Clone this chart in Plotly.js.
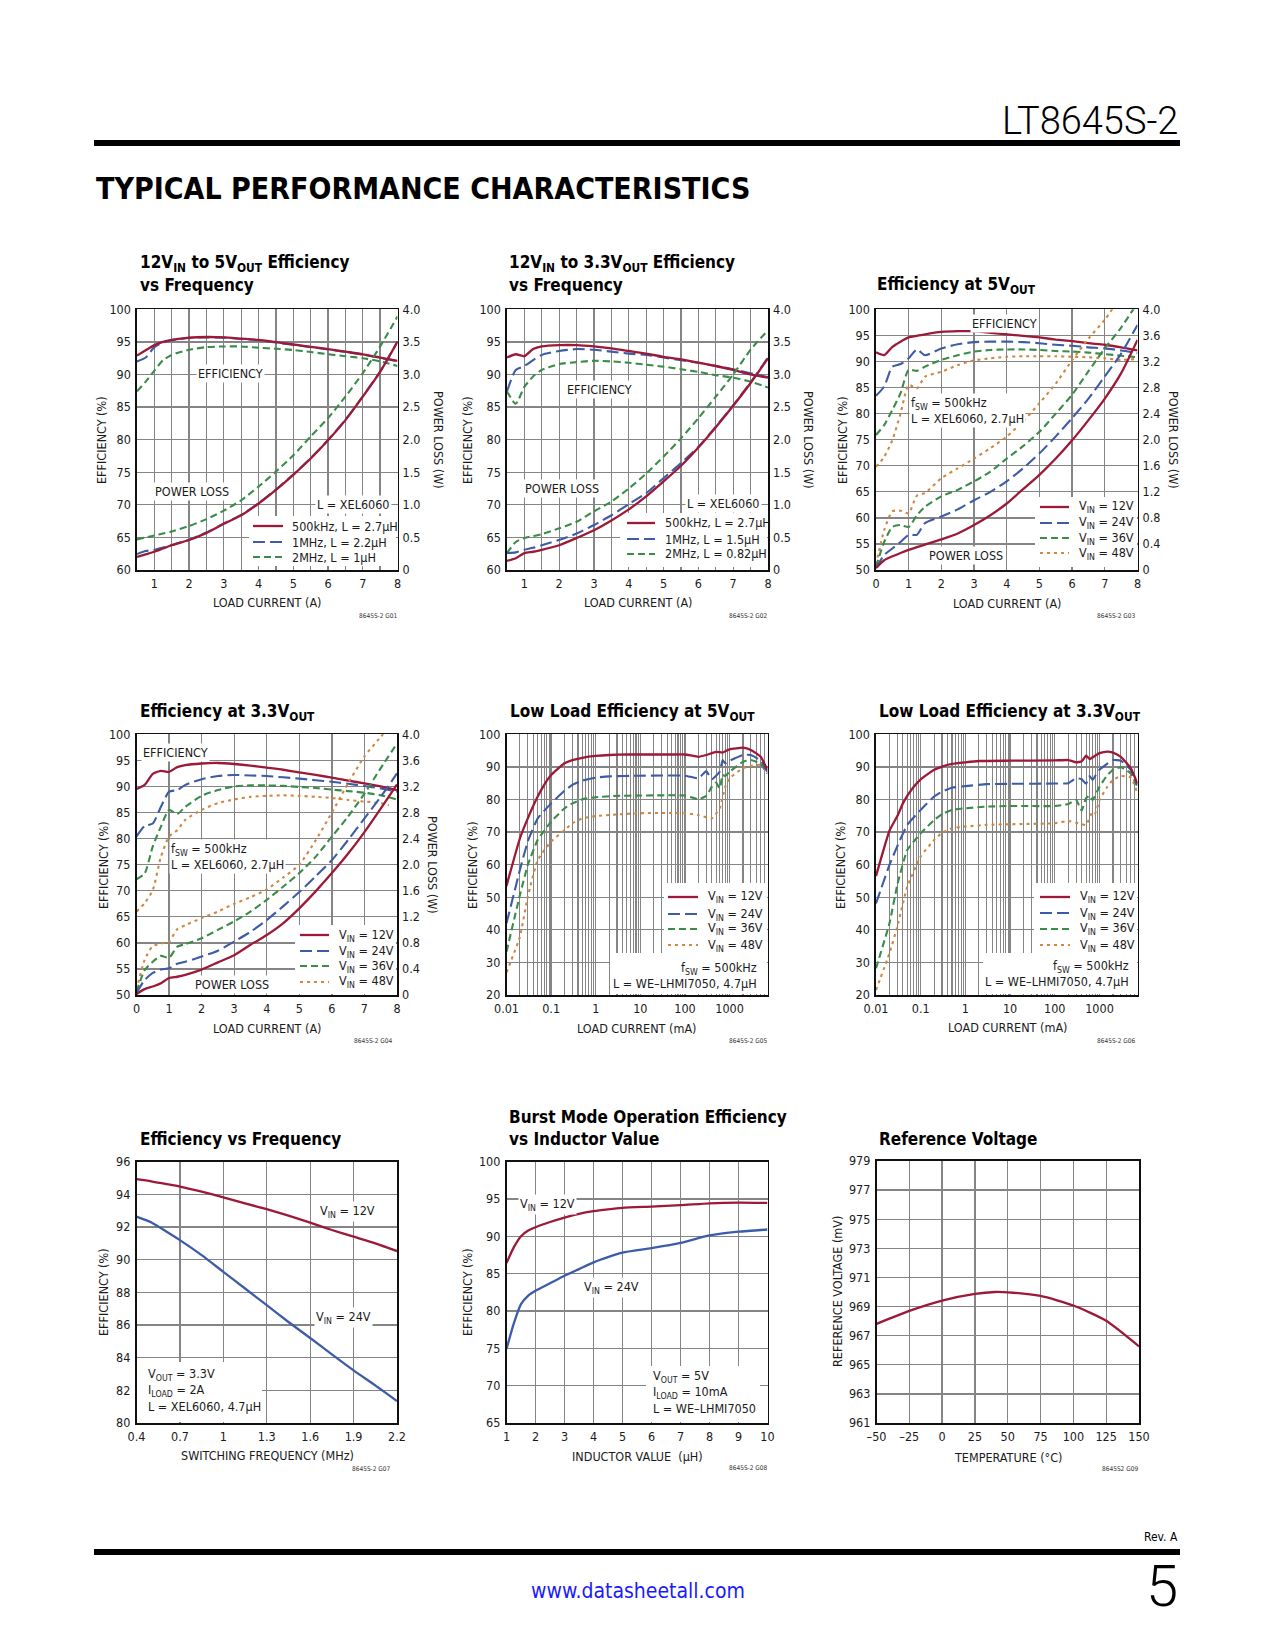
<!DOCTYPE html>
<html><head><meta charset="utf-8">
<script src="https://cdn.plot.ly/plotly-3.0.1.min.js"></script>
<style>html,body{margin:0;padding:0;background:#fff}</style>
</head><body><div id="page" style="width:1275px;height:1650px"></div>
<script>
// ---------------- DATA ----------------
// Chart 1: 12VIN to 5VOUT efficiency vs frequency
const c1_load = [0.5,0.75,1,1.25,1.5,2,2.5,3,3.5,4,4.5,5,5.5,6,6.5,7,7.5,8];
const c1_eff_500k = [92.9,93.7,94.5,95.0,95.3,95.65,95.75,95.7,95.5,95.3,94.95,94.6,94.25,93.9,93.5,93.1,92.6,92.1];
const c1_eff_1M   = [92.0,92.6,94.2,94.9,95.25,95.6,95.7,95.65,95.45,95.25,94.9,94.55,94.2,93.85,93.45,93.05,92.55,92.05];
const c1_eff_2M   = [87.4,88.9,90.6,92.2,93.0,93.8,94.2,94.3,94.3,94.1,93.95,93.75,93.45,93.1,92.8,92.5,92.0,91.3];
const c1_loss_500k = [0.20,0.24,0.28,0.33,0.38,0.46,0.57,0.71,0.84,1.02,1.23,1.46,1.71,1.99,2.30,2.66,3.04,3.50];
const c1_loss_1M   = [0.245,0.29,0.31,0.345,0.385,0.465,0.575,0.715,0.845,1.025,1.235,1.465,1.715,1.995,2.305,2.665,3.045,3.505];
const c1_loss_2M   = [0.47,0.50,0.53,0.56,0.59,0.675,0.78,0.91,1.07,1.28,1.51,1.76,2.05,2.33,2.66,3.02,3.43,3.89];
const c1_labels = ['500kHz, L = 2.7µH','1MHz, L = 2.2µH','2MHz, L = 1µH'];

// Chart 2: 12VIN to 3.3VOUT efficiency vs frequency
const c2_load = [0.5,0.75,1,1.25,1.5,2,2.5,3,3.5,4,4.5,5,5.5,6,6.5,7,7.5,8];
const c2_eff_500k = [92.6,93.1,92.8,93.9,94.3,94.5,94.5,94.3,94.0,93.6,93.2,92.7,92.3,91.8,91.3,90.7,90.0,89.5];
const c2_eff_1M   = [87.4,90.7,91.3,92.2,93.0,93.6,93.9,93.8,93.5,93.2,93.0,92.6,92.2,91.8,91.3,90.8,90.2,89.6];
const c2_eff_2M   = [87.4,85.5,88.1,89.7,90.7,91.6,91.9,92.1,92.0,91.8,91.5,91.2,90.8,90.4,89.9,89.5,88.9,88.0];
const c2_loss_500k = [0.14,0.18,0.26,0.28,0.31,0.38,0.49,0.61,0.76,0.93,1.13,1.36,1.60,1.88,2.19,2.52,2.87,3.25];
const c2_loss_1M   = [0.26,0.27,0.31,0.34,0.38,0.46,0.56,0.69,0.84,1.01,1.18,1.41,1.64,1.89,2.20,2.53,2.88,3.26];
const c2_loss_2M   = [0.26,0.43,0.49,0.52,0.55,0.64,0.74,0.90,1.05,1.25,1.48,1.74,2.02,2.33,2.66,3.00,3.38,3.68];
const c2_labels = ['500kHz, L = 2.7µH','1MHz, L = 1.5µH','2MHz, L = 0.82µH'];

// Chart 3: efficiency at 5VOUT
const c3_load = [0,0.25,0.5,0.75,1,1.25,1.5,2,2.5,3,3.5,4,4.5,5,5.5,6,6.5,7,7.5,8];
const c3_eff_12 = [91.75,91.2,92.8,93.8,94.6,94.9,95.2,95.65,95.8,95.8,95.5,95.2,94.9,94.6,94.2,93.9,93.5,93.2,92.7,92.1];
const c3_eff_24 = [83.4,85.2,89.0,89.5,90.6,92.3,91.2,92.5,93.3,93.7,93.8,93.8,93.7,93.5,93.2,93.0,92.7,92.5,92.1,91.6];
const c3_eff_36 = [75.9,77.8,80.7,83.9,88.4,88.2,89.0,90.3,91.2,91.9,92.2,92.3,92.3,92.2,92.0,91.9,91.7,91.4,91.1,90.8];
const c3_eff_48 = [69.8,71.7,74.9,80.0,85.5,84.8,87.1,88.0,89.3,90.2,90.6,90.9,91.0,91.0,91.0,90.9,90.8,90.6,90.3,90.5];
const c3_loss_12 = [0.03,0.15,0.21,0.26,0.31,0.35,0.39,0.47,0.56,0.69,0.84,1.02,1.24,1.46,1.71,1.99,2.30,2.63,3.02,3.53];
const c3_loss_24 = [0.03,0.23,0.33,0.43,0.54,0.54,0.72,0.82,0.93,1.07,1.20,1.36,1.56,1.79,2.05,2.33,2.63,2.97,3.32,3.76];
const c3_loss_36 = [0.05,0.43,0.66,0.69,0.66,0.84,0.97,1.13,1.23,1.36,1.51,1.71,1.90,2.12,2.40,2.69,3.05,3.40,3.72,4.10];
const c3_load_48loss = [0,0.25,0.5,0.75,1,1.25,1.5,2,2.5,3,3.5,4,4.5,5,5.5,6,6.5,7,7.25];
const c3_loss_48 = [0.08,0.61,0.90,0.91,0.87,1.14,1.18,1.41,1.56,1.71,1.87,2.05,2.28,2.56,2.86,3.22,3.55,3.84,4.02];

// Chart 4: efficiency at 3.3VOUT
const c4_load = [0,0.25,0.5,0.75,1,1.25,1.5,2,2.5,3,3.5,4,4.5,5,5.5,6,6.5,7,7.5,8];
const c4_eff_12 = [89.5,90.3,92.4,93.0,92.8,93.7,94.1,94.4,94.5,94.3,94.0,93.6,93.2,92.7,92.2,91.7,91.1,90.6,90.0,89.3];
const c4_eff_24 = [80.4,82.4,82.9,86.1,89.0,89.3,90.3,91.4,92.0,92.2,92.1,92.0,91.75,91.5,91.2,90.9,90.5,90.1,89.6,89.0];
const c4_eff_36 = [72.2,73.3,78.5,82.3,85.5,84.7,86.1,88.2,89.3,90.0,90.2,90.2,90.1,89.9,89.7,89.4,89.1,88.8,88.3,87.5];
const c4_load_48eff = [0,0.25,0.5,0.75,1,1.25,1.5,2,2.5,3,3.5,4,4.5,5,5.5,6,6.5,7,7.5,7.75];
const c4_eff_48 = [66.0,67.6,70.1,76.5,80.4,81.6,83.6,85.5,86.8,87.5,88.0,88.2,88.3,88.2,88.0,87.8,87.4,87.1,86.8,86.4];
const c4_loss_12 = [0.015,0.09,0.13,0.18,0.26,0.28,0.31,0.39,0.50,0.61,0.77,0.92,1.10,1.33,1.59,1.87,2.17,2.50,2.86,3.23];
const c4_loss_24 = [0.03,0.23,0.34,0.39,0.41,0.48,0.51,0.59,0.68,0.82,0.97,1.15,1.36,1.58,1.82,2.07,2.38,2.71,3.04,3.40];
const c4_loss_36 = [0.05,0.38,0.51,0.60,0.57,0.74,0.78,0.87,1.00,1.13,1.28,1.46,1.66,1.87,2.12,2.43,2.74,3.09,3.48,3.86];
const c4_load_48loss = [0,0.25,0.5,0.75,1,1.25,1.5,2,2.5,3,3.5,4,4.5,5,5.5,6,6.5,7,7.5,7.6];
const c4_loss_48 = [0.08,0.54,0.75,0.79,0.82,1.01,1.07,1.18,1.28,1.40,1.50,1.62,1.80,2.00,2.37,2.80,3.25,3.66,3.96,4.02];

const vin_labels = ['V<sub>IN</sub> = 12V','V<sub>IN</sub> = 24V','V<sub>IN</sub> = 36V','V<sub>IN</sub> = 48V'];

// Chart 5: low load efficiency at 5VOUT (load in mA)
const c5_x12 = [0.01,0.02,0.03,0.05,0.07,0.1,0.2,0.3,0.5,1,2,5,10,50,100,200,300,500,700,1000,2000,3000,5000,7000];
const c5_e12 = [53.5,68.1,74.2,80.9,84.5,87.5,91.1,92.1,92.8,93.35,93.65,93.8,93.8,93.8,93.8,93.1,93.65,94.6,94.4,95.4,95.9,95.2,93.1,89.1];
const c5_x24 = [0.01,0.02,0.03,0.05,0.1,0.2,0.3,0.5,1,2,10,100,200,300,400,600,700,800,1000,2000,3000,5000,7000];
const c5_e24 = [42.0,58.4,67.1,74.2,78.8,82.7,84.5,85.8,86.7,87.1,87.3,87.3,86.5,88.7,86.2,88.5,92.1,91.1,91.9,93.65,93.65,91.9,88.5];
const c5_x36 = [0.01,0.02,0.03,0.05,0.1,0.2,0.3,0.5,1,3,10,100,200,300,400,500,600,700,800,1000,2000,3000,5000,7000];
const c5_e36 = [33.3,50.7,59.9,67.6,73.2,77.3,78.8,80.05,80.7,81.1,81.2,81.2,80.05,81.1,83.9,85.2,83.4,87.5,87.2,88.5,91.6,92.1,90.9,88.0];
const c5_x48 = [0.01,0.02,0.03,0.05,0.1,0.2,0.3,0.5,1,3,10,100,200,400,600,800,1000,2000,3000,5000,7000];
const c5_e48 = [26.9,37.9,50.2,61.4,67.1,70.6,72.7,74.2,74.9,75.4,75.8,75.8,75.2,74.2,77.3,83.9,86.5,89.6,90.3,90.6,88.0];

// Chart 6: low load efficiency at 3.3VOUT
const c6_x12 = [0.01,0.02,0.03,0.04,0.05,0.07,0.1,0.2,0.3,0.5,1,2,10,100,200,300,400,500,600,800,1000,1500,2000,3000,5000,7000];
const c6_e12 = [56.5,70.4,74.9,78.8,81.1,83.9,86.2,89.1,90.1,90.9,91.4,91.8,91.9,92.0,92.1,91.4,91.7,93.45,92.4,93.45,94.2,94.7,94.4,93.1,89.6,85.0];
const c6_x24 = [0.01,0.02,0.03,0.05,0.1,0.2,0.3,0.5,1,3,10,100,200,300,400,500,600,700,800,1000,2000,3000,5000,7000];
const c6_e24 = [48.1,59.9,65.7,72.2,76.8,80.9,82.4,83.6,84.1,84.7,84.8,84.9,85.0,86.5,86.2,84.8,87.2,86.0,87.2,89.1,92.1,91.9,89.1,84.5];
const c6_x36 = [0.01,0.02,0.03,0.05,0.1,0.2,0.3,0.5,1,3,10,100,200,300,400,500,600,700,1000,1500,2000,3000,5000,7000];
const c6_e36 = [28.2,42.0,53.8,64.5,69.6,73.7,75.5,76.8,77.3,77.8,78.0,78.0,78.6,79.85,76.6,80.4,81.1,79.85,83.9,87.5,89.1,89.9,88.0,83.9];
const c6_x48 = [0.01,0.02,0.03,0.05,0.1,0.2,0.3,0.5,1,3,10,100,200,300,500,700,800,1000,1500,2000,3000,5000,7000];
const c6_e48 = [21.5,32.8,41.0,53.2,62.5,67.6,69.8,71.2,71.7,72.2,72.4,72.7,73.4,72.9,72.2,76.3,75.8,79.85,83.9,86.0,87.2,86.8,82.1];

// Chart 7: efficiency vs switching frequency
const c7_freq = [0.4,0.5,0.6,0.7,0.85,1.0,1.15,1.3,1.45,1.6,1.75,1.9,2.05,2.2];
const c7_e12 = [94.92,94.79,94.63,94.47,94.16,93.81,93.44,93.08,92.69,92.26,91.81,91.40,90.99,90.52];
const c7_e24 = [92.63,92.28,91.75,91.19,90.27,89.25,88.23,87.21,86.18,85.20,84.20,83.22,82.30,81.34];

// Chart 8: burst mode efficiency vs inductor value
const c8_L = [1,1.25,1.5,1.75,2,2.5,3,3.5,4,4.5,5,6,7,8,9,10];
const c8_e12 = [86.4,88.5,90.0,90.76,91.2,91.9,92.5,93.0,93.35,93.6,93.8,93.97,94.15,94.4,94.5,94.46];
const c8_e24 = [74.9,78.3,80.9,82.05,82.7,83.7,84.7,85.6,86.5,87.2,87.8,88.4,89.1,90.1,90.6,90.9];

// Chart 9: reference voltage vs temperature
const c9_T = [-50,-25,0,25,40,50,75,100,125,150];
const c9_V = [967.81,968.70,969.41,969.87,970.0,969.98,969.73,969.07,968.02,966.26];

// Tick labels
const pl_ticks_05 = [0,0.5,1,1.5,2,2.5,3,3.5,4];
const pl_text_05  = ['0','0.5','1.0','1.5','2.0','2.5','3.0','3.5','4.0'];
const pl_ticks_04 = [0,0.4,0.8,1.2,1.6,2,2.4,2.8,3.2,3.6,4];
const pl_text_04  = ['0','0.4','0.8','1.2','1.6','2.0','2.4','2.8','3.2','3.6','4.0'];
const log_decades = [0.01,0.1,1,10,100,1000];
const log_text    = ['0.01','0.1','1','10','100','1000'];
const f_ticks = [0.4,0.7,1.0,1.3,1.6,1.9,2.2];
const f_text  = ['0.4','0.7','1','1.3','1.6','1.9','2.2'];
const t_ticks = [-50,-25,0,25,50,75,100,125,150];
const t_text  = ['–50','–25','0','25','50','75','100','125','150'];

// ---------------- LAYOUT ----------------
const W = 1275, H = 1650;
const NARROW = '"Liberation Sans Narrow","Arial Narrow","Nimbus Sans Narrow","DejaVu Sans Condensed","Liberation Sans",Arial,sans-serif';
const GRID = '#858585';
const COL = {red:'#9c1a37', blue:'#3d5ca8', green:'#3a8c48', orange:'#cf8741'};
const ST = {
  red:   {color:COL.red, width:2.3, dash:'solid'},
  blue:  {color:COL.blue, width:2.1, dash:'12px,5px'},
  green: {color:COL.green, width:2.1, dash:'7px,4px'},
  orange:{color:COL.orange, width:2.1, dash:'3px,4px'}
};
const P = {
  1:{L:137,R:397.5,T:309.3,B:570}, 2:{L:507,R:768,T:309.3,B:570}, 3:{L:876,R:1137.5,T:309.3,B:570},
  4:{L:136.5,R:397,T:734.3,B:995}, 5:{L:506.5,R:767.5,T:734.3,B:995}, 6:{L:876,R:1137.5,T:734.3,B:995},
  7:{L:136.5,R:397,T:1161.5,B:1423}, 8:{L:506.5,R:767.5,T:1161.5,B:1423}, 9:{L:876.5,R:1139,T:1161,B:1423}
};
const AX = {
  1:{x:[0.5,8],y:[60,100]}, 2:{x:[0.5,8],y:[60,100]}, 3:{x:[0,8],y:[50,100]}, 4:{x:[0,8],y:[50,100]},
  5:{x:[-2,3.85],xlog:true,y:[20,100]}, 6:{x:[-2,3.85],xlog:true,y:[20,100]},
  7:{x:[0.4,2.2],y:[80,96]}, 8:{x:[1,10],y:[65,100]}, 9:{x:[-50,150],y:[961,979]}
};

const layout = {
  width:W, height:H, margin:{l:0,r:0,t:0,b:0}, paper_bgcolor:'#fff', plot_bgcolor:'#fff',
  showlegend:false, font:{family:NARROW, size:12.5, color:'#1a1a1a'},
  annotations:[], shapes:[]
};
function sfx(k){ return k===1 ? '' : String(k); }
function axisBase(){ return {showline:true, mirror:true, linecolor:'#111', linewidth:1.6, showgrid:true,
  gridcolor:GRID, gridwidth:1.3, zeroline:false, ticks:'', fixedrange:true, tickfont:{size:12.5}}; }
function setAxes(k, xopt, yopt){
  const p = P[k], s = sfx(k), a = AX[k];
  layout['xaxis'+s] = Object.assign(axisBase(), {domain:[p.L/W, p.R/W], anchor:'y'+s, range:a.x, type:a.xlog?'log':'linear', ticklabelstandoff:1}, xopt);
  layout['yaxis'+s] = Object.assign(axisBase(), {domain:[1-p.B/H, 1-p.T/H], anchor:'x'+s, range:a.y, ticklabelstandoff:2}, yopt);
}
function setRight(k, yopt){
  const s = sfx(k);
  layout['yaxis'+(9+k)] = Object.assign({overlaying:'y'+s, side:'right', anchor:'x'+s, showgrid:false, zeroline:false,
    showline:false, ticks:'', fixedrange:true, tickfont:{size:12.5}, range:[0,4], ticklabelstandoff:4}, yopt);
}
const traces = [];
function addLine(k, x, y, style, name, right, smooth){
  const s = sfx(k);
  traces.push({type:'scatter', mode:'lines', x:x, y:y, name:name, xaxis:'x'+s, yaxis: right ? 'y'+(9+k) : 'y'+s,
    showlegend:false, hoverinfo:'skip', line:Object.assign({shape:'spline', smoothing: smooth==null?0.6:smooth}, style)});
}
function T(px, py, text, o){
  layout.annotations.push(Object.assign({xref:'paper', yref:'paper', x:px/W, y:1-py/H, text:text, showarrow:false,
    xanchor:'center', yanchor:'middle', font:{size:12.5}}, o||{}));
}
const WB = {bgcolor:'#fff', borderpad:1};
function px2x(k, px){ const p=P[k], a=AX[k]; const v = a.x[0] + (px-p.L)/(p.R-p.L)*(a.x[1]-a.x[0]); return a.xlog ? Math.pow(10,v) : v; }
function py2y(k, py){ const p=P[k], a=AX[k]; return a.y[0] + (p.B-py)/(p.B-p.T)*(a.y[1]-a.y[0]); }
function box(k, x0, y0, x1, y1){
  const s = sfx(k);
  layout.shapes.push({type:'rect', xref:'x'+s, yref:'y'+s, layer:'between', x0:px2x(k,x0), x1:px2x(k,x1),
    y0:py2y(k,y1), y1:py2y(k,y0), fillcolor:'#fff', line:{width:0}});
}
function legendRows(rows, sx0, sx1, tx, labels, styles){
  rows.forEach((py,i)=>{
    const st = styles[i];
    layout.shapes.push({type:'line', xref:'paper', yref:'paper', layer:'above', x0:sx0/W, x1:sx1/W, y0:1-py/H, y1:1-py/H,
      line:{color:st.color, width:st.width, dash:st.dash}});
    T(tx, py, labels[i], {xanchor:'left'});
  });
}
const TF = {family:NARROW, size:17, weight:'bold', color:'#000'};
function title(px, py, text){ T(px, py, text, {xanchor:'left', font:TF}); }
function ytitle(px, py, text, ang){ T(px, py, text, {textangle: ang==null?-90:ang}); }
function code(px, py, text){ T(px, py, text, {xanchor:'right', font:{size:6.5, color:'#333'}}); }
const halfGrid = {dtick:1, tick0:0, minor:{dtick:0.5, tick0:0, showgrid:true, gridcolor:GRID, gridwidth:1.3, ticks:''}};
const logAxis = {tickvals:log_decades, ticktext:log_text, minor:{dtick:'D1', showgrid:true, gridcolor:GRID, gridwidth:1.1, ticks:''}};

// ---- Chart 1 ----
setAxes(1, halfGrid, {dtick:5, tick0:60});
setRight(1, {tickvals:pl_ticks_05, ticktext:pl_text_05});
addLine(1, c1_load, c1_eff_2M, ST.green, '2MHz, L = 1µH');
addLine(1, c1_load, c1_eff_1M, ST.blue, '1MHz, L = 2.2µH');
addLine(1, c1_load, c1_eff_500k, ST.red, '500kHz, L = 2.7µH');
addLine(1, c1_load, c1_loss_2M, ST.green, '2MHz power loss', true);
addLine(1, c1_load, c1_loss_1M, ST.blue, '1MHz power loss', true);
addLine(1, c1_load, c1_loss_500k, ST.red, '500kHz power loss', true);
title(138, 263, '12V<sub>IN</sub> to 5V<sub>OUT</sub> Efficiency');
title(138, 285, 'vs Frequency');
T(230, 373, 'EFFICIENCY', WB);
T(192, 491, 'POWER LOSS', WB);
T(392, 505, 'L = XEL6060', Object.assign({xanchor:'right'}, WB));
box(1, 249, 516, 396, 566);
legendRows([526,542,557], 253, 283, 290, c1_labels, [ST.red, ST.blue, ST.green]);
ytitle(102, 440, 'EFFICIENCY (%)');
ytitle(438, 440, 'POWER LOSS (W)', 90);
T(267, 602, 'LOAD CURRENT (A)');
code(400, 616, '8645S-2 G01');

// ---- Chart 2 ----
setAxes(2, halfGrid, {dtick:5, tick0:60});
setRight(2, {tickvals:pl_ticks_05, ticktext:pl_text_05});
addLine(2, c2_load, c2_eff_2M, ST.green, '2MHz, L = 0.82µH');
addLine(2, c2_load, c2_eff_1M, ST.blue, '1MHz, L = 1.5µH');
addLine(2, c2_load, c2_eff_500k, ST.red, '500kHz, L = 2.7µH');
addLine(2, c2_load, c2_loss_2M, ST.green, '2MHz power loss', true);
addLine(2, c2_load, c2_loss_1M, ST.blue, '1MHz power loss', true);
addLine(2, c2_load, c2_loss_500k, ST.red, '500kHz power loss', true);
title(507, 263, '12V<sub>IN</sub> to 3.3V<sub>OUT</sub> Efficiency');
title(507, 285, 'vs Frequency');
T(599, 390, 'EFFICIENCY', WB);
T(562, 488, 'POWER LOSS', WB);
T(762, 504, 'L = XEL6060', Object.assign({xanchor:'right'}, WB));
box(2, 620, 513, 767, 567);
legendRows([523,539,554], 627, 655, 663, c2_labels, [ST.red, ST.blue, ST.green]);
ytitle(468, 440, 'EFFICIENCY (%)');
ytitle(808, 440, 'POWER LOSS (W)', 90);
T(638, 602, 'LOAD CURRENT (A)');
code(770, 616, '8645S-2 G02');

// ---- Chart 3 ----
setAxes(3, {dtick:1, tick0:0}, {dtick:5, tick0:50});
setRight(3, {tickvals:pl_ticks_04, ticktext:pl_text_04});
addLine(3, c3_load, c3_eff_48, ST.orange, 'VIN = 48V');
addLine(3, c3_load, c3_eff_36, ST.green, 'VIN = 36V');
addLine(3, c3_load, c3_eff_24, ST.blue, 'VIN = 24V');
addLine(3, c3_load, c3_eff_12, ST.red, 'VIN = 12V');
addLine(3, c3_load_48loss, c3_loss_48, ST.orange, 'VIN = 48V power loss', true);
addLine(3, c3_load, c3_loss_36, ST.green, 'VIN = 36V power loss', true);
addLine(3, c3_load, c3_loss_24, ST.blue, 'VIN = 24V power loss', true);
addLine(3, c3_load, c3_loss_12, ST.red, 'VIN = 12V power loss', true);
title(875, 285, 'Efficiency at 5V<sub>OUT</sub>');
T(1004, 323, 'EFFICIENCY', WB);
T(909, 410, 'f<sub>SW</sub> = 500kHz<br>L = XEL6060, 2.7µH', Object.assign({xanchor:'left', align:'left'}, WB));
T(966, 556, 'POWER LOSS', WB);
box(3, 1035, 497, 1137, 567);
legendRows([507,523,538,553], 1040, 1069, 1077, vin_labels, [ST.red, ST.blue, ST.green, ST.orange]);
ytitle(843, 440, 'EFFICIENCY (%)');
ytitle(1173, 440, 'POWER LOSS (W)', 90);
T(1007, 603, 'LOAD CURRENT (A)');
code(1138, 616, '8645S-2 G03');

// ---- Chart 4 ----
setAxes(4, {dtick:1, tick0:0}, {dtick:5, tick0:50});
setRight(4, {tickvals:pl_ticks_04, ticktext:pl_text_04});
addLine(4, c4_load_48eff, c4_eff_48, ST.orange, 'VIN = 48V');
addLine(4, c4_load, c4_eff_36, ST.green, 'VIN = 36V');
addLine(4, c4_load, c4_eff_24, ST.blue, 'VIN = 24V');
addLine(4, c4_load, c4_eff_12, ST.red, 'VIN = 12V');
addLine(4, c4_load_48loss, c4_loss_48, ST.orange, 'VIN = 48V power loss', true);
addLine(4, c4_load, c4_loss_36, ST.green, 'VIN = 36V power loss', true);
addLine(4, c4_load, c4_loss_24, ST.blue, 'VIN = 24V power loss', true);
addLine(4, c4_load, c4_loss_12, ST.red, 'VIN = 12V power loss', true);
title(138, 712, 'Efficiency at 3.3V<sub>OUT</sub>');
T(141, 753, 'EFFICIENCY', Object.assign({xanchor:'left'}, WB));
T(169, 856, 'f<sub>SW</sub> = 500kHz<br>L = XEL6060, 2.7µH', Object.assign({xanchor:'left', align:'left'}, WB));
T(232, 985, 'POWER LOSS', WB);
box(4, 295, 925, 396, 994);
legendRows([935,951,966,982], 300, 329, 337, vin_labels, [ST.red, ST.blue, ST.green, ST.orange]);
ytitle(103, 865, 'EFFICIENCY (%)');
ytitle(433, 865, 'POWER LOSS (W)', 90);
T(267, 1028, 'LOAD CURRENT (A)');
code(395, 1041, '8645S-2 G04');

// ---- Chart 5 ----
setAxes(5, logAxis, {dtick:10, tick0:20});
addLine(5, c5_x48, c5_e48, ST.orange, 'VIN = 48V', false, 0.4);
addLine(5, c5_x36, c5_e36, ST.green, 'VIN = 36V', false, 0.4);
addLine(5, c5_x24, c5_e24, ST.blue, 'VIN = 24V', false, 0.4);
addLine(5, c5_x12, c5_e12, ST.red, 'VIN = 12V', false, 0.4);
title(508, 712, 'Low Load Efficiency at 5V<sub>OUT</sub>');
box(5, 664, 883, 767, 955);
box(5, 610, 953, 767, 994);
legendRows([897,914,929,945], 668, 698, 706, vin_labels, [ST.red, ST.blue, ST.green, ST.orange]);
T(759, 975, 'f<sub>SW</sub> = 500kHz<br>L = WE–LHMI7050, 4.7µH', {xanchor:'right', align:'right'});
ytitle(472, 865, 'EFFICIENCY (%)');
T(636, 1028, 'LOAD CURRENT (mA)');
code(770, 1041, '8645S-2 G05');

// ---- Chart 6 ----
setAxes(6, logAxis, {dtick:10, tick0:20});
addLine(6, c6_x48, c6_e48, ST.orange, 'VIN = 48V', false, 0.4);
addLine(6, c6_x36, c6_e36, ST.green, 'VIN = 36V', false, 0.4);
addLine(6, c6_x24, c6_e24, ST.blue, 'VIN = 24V', false, 0.4);
addLine(6, c6_x12, c6_e12, ST.red, 'VIN = 12V', false, 0.4);
title(877, 712, 'Low Load Efficiency at 3.3V<sub>OUT</sub>');
box(6, 1034, 883, 1137, 953);
box(6, 983, 953, 1137, 994);
legendRows([897,913,929,945], 1040, 1070, 1078, vin_labels, [ST.red, ST.blue, ST.green, ST.orange]);
T(1131, 973, 'f<sub>SW</sub> = 500kHz<br>L = WE–LHMI7050, 4.7µH', {xanchor:'right', align:'right'});
ytitle(840, 865, 'EFFICIENCY (%)');
T(1007, 1027, 'LOAD CURRENT (mA)');
code(1138, 1041, '8645S-2 G06');

// ---- Chart 7 ----
setAxes(7, {tickvals:f_ticks, ticktext:f_text}, {dtick:2, tick0:80});
addLine(7, c7_freq, c7_e24, {color:COL.blue, width:2.3}, 'VIN = 24V');
addLine(7, c7_freq, c7_e12, {color:COL.red, width:2.3}, 'VIN = 12V');
title(138, 1139, 'Efficiency vs Frequency');
T(347, 1211, 'V<sub>IN</sub> = 12V', WB);
T(344, 1317, 'V<sub>IN</sub> = 24V', WB);
box(7, 137, 1362, 262, 1422);
T(146, 1390, 'V<sub>OUT</sub> = 3.3V<br>I<sub>LOAD</sub> = 2A<br>L = XEL6060, 4.7µH', {xanchor:'left', align:'left'});
ytitle(103, 1292, 'EFFICIENCY (%)');
T(267, 1455, 'SWITCHING FREQUENCY (MHz)');
code(393, 1469, '8645S-2 G07');

// ---- Chart 8 ----
setAxes(8, {dtick:1, tick0:1}, {dtick:5, tick0:65});
addLine(8, c8_L, c8_e24, {color:COL.blue, width:2.3}, 'VIN = 24V');
addLine(8, c8_L, c8_e12, {color:COL.red, width:2.3}, 'VIN = 12V');
title(507, 1117, 'Burst Mode Operation Efficiency');
title(507, 1139, 'vs Inductor Value');
T(547, 1204, 'V<sub>IN</sub> = 12V', WB);
T(611, 1287, 'V<sub>IN</sub> = 24V', WB);
box(8, 646, 1366, 760, 1422);
T(651, 1392, 'V<sub>OUT</sub> = 5V<br>I<sub>LOAD</sub> = 10mA<br>L = WE–LHMI7050', {xanchor:'left', align:'left'});
ytitle(467, 1292, 'EFFICIENCY (%)');
T(637, 1456, 'INDUCTOR VALUE  (µH)');
code(770, 1468, '8645S-2 G08');

// ---- Chart 9 ----
setAxes(9, {tickvals:t_ticks, ticktext:t_text}, {dtick:2, tick0:961});
addLine(9, c9_T, c9_V, {color:COL.red, width:2.3}, 'Reference voltage');
title(877, 1139, 'Reference Voltage');
ytitle(837, 1292, 'REFERENCE VOLTAGE (mV)');
T(1008, 1457, 'TEMPERATURE (°C)');
code(1140, 1469, '8645S2 G09');

// ---- Page header / footer ----
T(1180, 121, 'LT8645S-2', {xanchor:'right', font:{family:'Roboto, "Liberation Sans", sans-serif', size:38, weight:300, color:'#000'}});
layout.shapes.push({type:'rect', xref:'paper', yref:'paper', x0:94/W, x1:1180/W, y0:1-146/H, y1:1-140/H, fillcolor:'#000', line:{width:0}});
T(94, 189, 'TYPICAL PERFORMANCE CHARACTERISTICS', {xanchor:'left', font:{family:NARROW, size:30, weight:'bold', color:'#000'}});
T(1180, 1537, 'Rev. A', {xanchor:'right', font:{size:12, color:'#000'}});
layout.shapes.push({type:'rect', xref:'paper', yref:'paper', x0:94/W, x1:1180/W, y0:1-1555/H, y1:1-1549/H, fillcolor:'#000', line:{width:0}});
T(638, 1591, 'www.datasheetall.com', {font:{family:NARROW, size:21, color:'#1a1aff'}});
T(1180, 1586, '5', {xanchor:'right', font:{family:'Roboto, "Liberation Sans", sans-serif', size:58, weight:300, color:'#000'}});

Plotly.newPlot('page', traces, layout, {staticPlot:true, displayModeBar:false});
</script>
</body></html>
